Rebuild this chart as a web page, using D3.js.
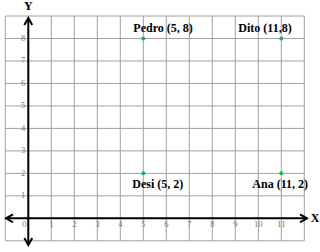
<!DOCTYPE html>
<html>
<head>
<meta charset="utf-8">
<script src="https://cdn.jsdelivr.net/npm/d3@7"></script>
<style>
  body { margin: 0; background: #fff; }
  svg { display: block; }
</style>
</head>
<body>
<svg width="320" height="252"></svg>
<script>
// points on the grid
const names = ['Pedro (5, 8)', 'Dito (11,8)', 'Desi (5, 2)', 'Ana (11, 2)'];
const xs = [5, 11, 5, 11];
const ys = [8, 8, 2, 2];
const xTicks = [0, 1, 2, 3, 4, 5, 6, 7, 8, 9, 10, 11];
const yTicks = [1, 2, 3, 4, 5, 6, 7, 8];

const svg = d3.select('svg');

const x = d3.scaleLinear().domain([-1, 12]).range([5.3, 304.3]);
const y = d3.scaleLinear().domain([-1, 9]).range([240.8, 16]);

// grid
const grid = svg.append('g').attr('stroke', '#a0a0a0').attr('stroke-width', 1);
grid.selectAll('line.v')
    .data(d3.range(-1, 13))
    .enter().append('line')
    .attr('x1', d => x(d)).attr('x2', d => x(d))
    .attr('y1', y(9)).attr('y2', y(-1));
grid.selectAll('line.h')
    .data(d3.range(-1, 10))
    .enter().append('line')
    .attr('y1', d => y(d)).attr('y2', d => y(d))
    .attr('x1', x(-1)).attr('x2', x(12));

// arrow heads
const defs = svg.append('defs');
defs.append('marker')
    .attr('id', 'arrow')
    .attr('viewBox', '0 0 10 10')
    .attr('refX', 8).attr('refY', 5)
    .attr('markerWidth', 5).attr('markerHeight', 5)
    .attr('orient', 'auto-start-reverse')
    .append('path')
    .attr('d', 'M1,1 L8,5 L1,9')
    .attr('fill', 'none')
    .attr('stroke', '#000')
    .attr('stroke-width', 2);

// axes
svg.append('line')
    .attr('x1', 6).attr('x2', 307)
    .attr('y1', y(0)).attr('y2', y(0))
    .attr('stroke', '#000').attr('stroke-width', 2)
    .attr('marker-start', 'url(#arrow)')
    .attr('marker-end', 'url(#arrow)');
svg.append('line')
    .attr('x1', x(0)).attr('x2', x(0))
    .attr('y1', 245).attr('y2', 18)
    .attr('stroke', '#000').attr('stroke-width', 2)
    .attr('marker-start', 'url(#arrow)')
    .attr('marker-end', 'url(#arrow)');

svg.append('text')
    .attr('x', 315).attr('y', y(0) + 4)
    .attr('text-anchor', 'middle')
    .style('font', 'bold 12px "Liberation Serif", serif')
    .text('X');
svg.append('text')
    .attr('x', x(0)).attr('y', 10)
    .attr('text-anchor', 'middle')
    .style('font', 'bold 12px "Liberation Serif", serif')
    .text('Y');

// tick labels
svg.selectAll('text.xt')
    .data(xTicks)
    .enter().append('text')
    .attr('class', 'xt')
    .attr('x', d => d === 0 ? x(0) - 4 : x(d))
    .attr('y', y(0) + 9)
    .attr('text-anchor', 'middle')
    .attr('fill', d => d === 1 ? '#3a6fb0' : d === 11 ? '#8a6a20' : '#777')
    .style('font', '8.5px "Liberation Serif", serif')
    .text(d => d);
svg.selectAll('text.yt')
    .data(yTicks)
    .enter().append('text')
    .attr('class', 'yt')
    .attr('x', x(0) - 3)
    .attr('y', d => y(d) + 2.5)
    .attr('text-anchor', 'end')
    .attr('fill', '#777')
    .style('font', '8.5px "Liberation Serif", serif')
    .text(d => d);

// points and labels
const labelDx = [-10, -43, -11, -29];
const pts = names.map((n, i) => ({ name: n, x: xs[i], y: ys[i], dx: labelDx[i] }));
svg.selectAll('circle.pt')
    .data(pts)
    .enter().append('circle')
    .attr('cx', d => x(d.x))
    .attr('cy', d => y(d.y))
    .attr('r', 2)
    .attr('fill', '#1fb34a');
svg.selectAll('text.lbl')
    .data(pts)
    .enter().append('text')
    .attr('x', d => x(d.x) + d.dx)
    .attr('y', d => d.y === 8 ? y(d.y) - 6 : y(d.y) + 14.5)
    .style('font', 'bold 12px "Liberation Serif", serif')
    .text(d => d.name);
</script>
</body>
</html>
